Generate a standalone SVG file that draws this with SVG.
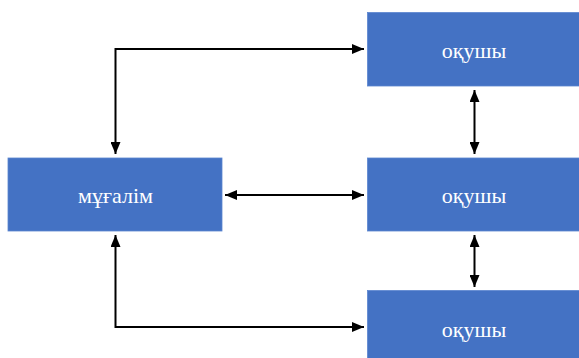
<svg xmlns="http://www.w3.org/2000/svg" width="579" height="358" viewBox="0 0 579 358">
<style>
.box{fill:#4472C4;stroke:#5B86D0;stroke-width:0.8}
.lbl{font-family:"Liberation Serif","Times New Roman",serif;font-size:22px;fill:#FFFFFF;text-anchor:middle}
.con{fill:none;stroke:#000;stroke-width:2}
</style>
<defs>
<marker id="ah" viewBox="0 0 12 10" refX="12" refY="5" markerWidth="12" markerHeight="10" markerUnits="userSpaceOnUse" orient="auto-start-reverse">
<path d="M0,0 L12,5 L0,10 Z" fill="#000"/>
</marker>
</defs>
<rect width="579" height="358" fill="#fff"/>
<g id="connectors">
<path class="con" d="M364,49 H115.5 V154" marker-start="url(#ah)" marker-end="url(#ah)"/>
<path class="con" d="M225,195 H364" marker-start="url(#ah)" marker-end="url(#ah)"/>
<path class="con" d="M115.5,235 V327 H364" marker-start="url(#ah)" marker-end="url(#ah)"/>
<path class="con" d="M474.5,90 V154" marker-start="url(#ah)" marker-end="url(#ah)"/>
<path class="con" d="M474.5,235 V287" marker-start="url(#ah)" marker-end="url(#ah)"/>
</g>
<g id="teacher">
<rect class="box" x="8" y="158" width="214" height="73"/>
<text class="lbl" x="115.5" y="202.5">мұғалім</text>
</g>
<g id="student1">
<rect class="box" x="367.5" y="12.5" width="212" height="73.5"/>
<text class="lbl" x="474" y="57.5">оқушы</text>
</g>
<g id="student2">
<rect class="box" x="367.5" y="158" width="212" height="73"/>
<text class="lbl" x="474" y="202.5">оқушы</text>
</g>
<g id="student3">
<rect class="box" x="367.5" y="290.5" width="212" height="68"/>
<text class="lbl" x="474" y="337">оқушы</text>
</g>
</svg>
